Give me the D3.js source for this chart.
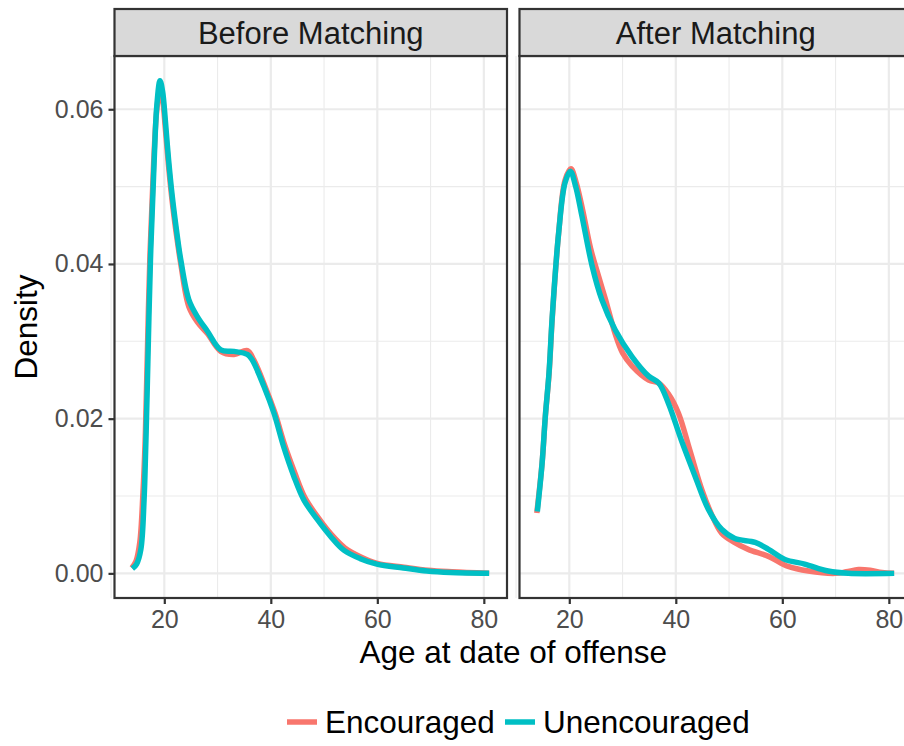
<!DOCTYPE html>
<html>
<head>
<meta charset="utf-8">
<script src="https://cdn.jsdelivr.net/npm/d3@7"></script>
<style>
  body { margin: 0; background: white; }
  text { font-family: "Liberation Sans", Arial, sans-serif; }
</style>
</head>
<body>
<script>
// facets and groups
var panels = ['Before Matching', 'After Matching'];
var groups = ['Encouraged', 'Unencouraged'];
var groupColors = ['#F8766D', '#00BFC4'];

var xTicks = [20, 40, 60, 80];
var xMinor = [10, 30, 50, 70];
var yTicks = [0, 0.02, 0.04, 0.06];
var yMinor = [0.01, 0.03, 0.05];

// density estimates: age, density
var beforeEncAge = [13.9, 14.7, 15.4, 16.0, 16.4, 16.7, 17.3, 18.0, 18.6, 19.2, 19.7, 20.2, 20.8, 21.5, 22.3, 23.1, 24.6, 26.2, 28.1, 30.6, 33.1, 35.6, 36.8, 38.9, 40.8, 42.6, 44.5, 46.4, 48.9, 51.4, 53.9, 57.0, 60.0, 65.0, 69.5, 74.0, 81.0];
var beforeEncDens = [0.0007, 0.0016, 0.0040, 0.0105, 0.0170, 0.0250, 0.0410, 0.0530, 0.0600, 0.0626, 0.0612, 0.0575, 0.0527, 0.0480, 0.0437, 0.0400, 0.0345, 0.0325, 0.0310, 0.0287, 0.0283, 0.0288, 0.0276, 0.0242, 0.0207, 0.0166, 0.0130, 0.0098, 0.0072, 0.0050, 0.0033, 0.0021, 0.0013, 0.0008, 0.0004, 0.0002, 0.0000];

var beforeUncAge = [14.0, 14.8, 15.6, 16.2, 16.5, 16.8, 17.4, 18.1, 18.6, 19.2, 19.7, 20.2, 20.8, 21.5, 22.3, 23.1, 24.6, 26.2, 28.1, 30.6, 33.1, 35.6, 36.5, 38.7, 40.6, 42.4, 44.3, 46.2, 48.7, 51.2, 53.7, 56.8, 59.9, 64.9, 69.3, 73.7, 81.0];
var beforeUncDens = [0.0006, 0.0012, 0.0031, 0.0095, 0.0160, 0.0240, 0.0405, 0.0534, 0.0605, 0.0637, 0.0622, 0.0585, 0.0535, 0.0487, 0.0443, 0.0405, 0.0354, 0.0332, 0.0313, 0.0289, 0.0287, 0.0283, 0.0276, 0.0242, 0.0207, 0.0164, 0.0126, 0.0095, 0.0070, 0.0048, 0.0030, 0.0019, 0.0012, 0.0007, 0.0003, 0.0001, 0.0000];

var afterEncAge = [13.9, 14.9, 15.5, 16.2, 16.8, 18.0, 19.2, 20.3, 21.3, 22.5, 24.0, 25.5, 26.8, 28.6, 30.0, 31.8, 34.9, 36.8, 38.6, 40.5, 42.6, 44.9, 46.8, 48.6, 51.0, 53.6, 57.4, 61.1, 64.9, 69.9, 72.0, 74.3, 76.5, 78.7, 81.0];
var afterEncDens = [0.0078, 0.0143, 0.0203, 0.0258, 0.0330, 0.0440, 0.0508, 0.0523, 0.0505, 0.0470, 0.0420, 0.0384, 0.0354, 0.0310, 0.0285, 0.0268, 0.0250, 0.0246, 0.0232, 0.0207, 0.0160, 0.0108, 0.0075, 0.0052, 0.0040, 0.0031, 0.0022, 0.0009, 0.0003, 0.0000, 0.0002, 0.0005, 0.0004, 0.0001, 0.0000];

var afterUncAge = [14.0, 14.9, 15.5, 16.2, 16.8, 18.0, 19.2, 20.2, 21.2, 22.4, 24.3, 26.1, 28.6, 31.8, 34.9, 36.8, 38.6, 41.1, 43.6, 46.1, 48.6, 51.1, 54.9, 57.4, 60.5, 64.2, 68.6, 72.4, 81.0];
var afterUncDens = [0.0080, 0.0143, 0.0203, 0.0260, 0.0332, 0.0440, 0.0505, 0.0520, 0.0500, 0.0461, 0.0397, 0.0354, 0.0315, 0.0280, 0.0255, 0.0246, 0.0220, 0.0171, 0.0126, 0.0083, 0.0057, 0.0045, 0.0040, 0.0031, 0.0018, 0.0012, 0.0003, 0.0000, 0.0000];

function zipSeries(ages, dens) {
  return ages.map(function(a, i) { return [a, dens[i]]; });
}

var panelData = [
  [zipSeries(beforeEncAge, beforeEncDens), zipSeries(beforeUncAge, beforeUncDens)],
  [zipSeries(afterEncAge, afterEncDens), zipSeries(afterUncAge, afterUncDens)]
];

var width = 904;
var height = 746;
var panelLeft = [114.5, 519.5];
var panelWidth = 392.5;
var stripTop = 9;
var panelTop = 56;
var panelBottom = 598;

var svg = d3.select('body')
  .append('svg')
  .attr('width', width)
  .attr('height', height);

// ggplot style expansion of 5% on both axes
var xMin = 14, xMax = 81, xPad = (xMax - xMin) * 0.05;
var yMax = 0.0637, yPad = yMax * 0.05;

var y = d3.scaleLinear()
  .domain([-yPad, yMax + yPad])
  .range([panelBottom, panelTop]);

var line = d3.line()
  .curve(d3.curveCatmullRom.alpha(0.5));

panels.forEach(function(name, p) {
  var x = d3.scaleLinear()
    .domain([xMin - xPad, xMax + xPad])
    .range([panelLeft[p], panelLeft[p] + panelWidth]);

  var g = svg.append('g');

  g.append('rect')
    .attr('x', panelLeft[p])
    .attr('y', panelTop)
    .attr('width', panelWidth)
    .attr('height', panelBottom - panelTop)
    .attr('fill', 'white');

  // minor grid
  g.selectAll('.xminor')
    .data(xMinor)
    .enter()
    .append('line')
    .attr('x1', function(d) { return x(d); })
    .attr('x2', function(d) { return x(d); })
    .attr('y1', panelTop)
    .attr('y2', panelBottom)
    .attr('stroke', '#EBEBEB')
    .attr('stroke-width', 1.1);

  g.selectAll('.yminor')
    .data(yMinor)
    .enter()
    .append('line')
    .attr('x1', panelLeft[p])
    .attr('x2', panelLeft[p] + panelWidth)
    .attr('y1', function(d) { return y(d); })
    .attr('y2', function(d) { return y(d); })
    .attr('stroke', '#EBEBEB')
    .attr('stroke-width', 1.1);

  // major grid
  g.selectAll('.xmajor')
    .data(xTicks)
    .enter()
    .append('line')
    .attr('x1', function(d) { return x(d); })
    .attr('x2', function(d) { return x(d); })
    .attr('y1', panelTop)
    .attr('y2', panelBottom)
    .attr('stroke', '#EBEBEB')
    .attr('stroke-width', 2.2);

  g.selectAll('.ymajor')
    .data(yTicks)
    .enter()
    .append('line')
    .attr('x1', panelLeft[p])
    .attr('x2', panelLeft[p] + panelWidth)
    .attr('y1', function(d) { return y(d); })
    .attr('y2', function(d) { return y(d); })
    .attr('stroke', '#EBEBEB')
    .attr('stroke-width', 2.2);

  // density curves
  g.selectAll('path.curve')
    .data(panelData[p])
    .enter()
    .append('path')
    .attr('d', function(d) {
      return line(d.map(function(pt) { return [x(pt[0]), y(pt[1])]; }));
    })
    .attr('fill', 'none')
    .attr('stroke', function(d, i) { return groupColors[i]; })
    .attr('stroke-width', 5.5)
    .attr('stroke-linejoin', 'round')
    .attr('stroke-linecap', 'butt');

  // panel border
  g.append('rect')
    .attr('x', panelLeft[p])
    .attr('y', panelTop)
    .attr('width', panelWidth)
    .attr('height', panelBottom - panelTop)
    .attr('fill', 'none')
    .attr('stroke', '#333333')
    .attr('stroke-width', 2.2);

  // strip
  g.append('rect')
    .attr('x', panelLeft[p])
    .attr('y', stripTop)
    .attr('width', panelWidth)
    .attr('height', panelTop - stripTop)
    .attr('fill', '#D9D9D9')
    .attr('stroke', '#333333')
    .attr('stroke-width', 2.2);

  g.append('text')
    .text(name)
    .attr('x', panelLeft[p] + panelWidth / 2)
    .attr('y', (stripTop + panelTop) / 2 + 11)
    .attr('text-anchor', 'middle')
    .attr('font-size', '31px')
    .attr('fill', '#1A1A1A');

  // x axis
  var xAxis = d3.axisBottom(x)
    .tickValues(xTicks)
    .tickSize(6)
    .tickPadding(6)
    .tickFormat(d3.format('d'));

  var xg = g.append('g')
    .attr('transform', 'translate(0,' + panelBottom + ')')
    .call(xAxis);
  xg.select('.domain').remove();
  xg.selectAll('line').attr('stroke', '#333333').attr('stroke-width', 2.2);
  xg.selectAll('text')
    .attr('fill', '#4D4D4D')
    .attr('font-size', '25px')
    .attr('font-family', '"Liberation Sans", Arial, sans-serif');

  if (p === 0) {
    var yAxis = d3.axisLeft(y)
      .tickValues(yTicks)
      .tickSize(6)
      .tickPadding(5)
      .tickFormat(d3.format('.2f'));

    var yg = g.append('g')
      .attr('transform', 'translate(' + panelLeft[p] + ',0)')
      .call(yAxis);
    yg.select('.domain').remove();
    yg.selectAll('line').attr('stroke', '#333333').attr('stroke-width', 2.2);
    yg.selectAll('text')
      .attr('fill', '#4D4D4D')
      .attr('font-size', '25px')
      .attr('font-family', '"Liberation Sans", Arial, sans-serif');
  }
});

// axis titles
svg.append('text')
  .text('Age at date of offense')
  .attr('x', (panelLeft[0] + panelLeft[1] + panelWidth) / 2)
  .attr('y', 663)
  .attr('text-anchor', 'middle')
  .attr('font-size', '31.5px')
  .attr('fill', 'black');

svg.append('text')
  .text('Density')
  .attr('transform', 'translate(37,' + (panelTop + panelBottom) / 2 + ') rotate(-90)')
  .attr('text-anchor', 'middle')
  .attr('font-size', '31.5px')
  .attr('fill', 'black');

// legend
var legendX = [287, 505];
var legend = svg.selectAll('.legend')
  .data(groups)
  .enter()
  .append('g')
  .attr('transform', function(d, i) { return 'translate(' + legendX[i] + ',722)'; });

legend.append('line')
  .attr('x1', 0)
  .attr('x2', 30)
  .attr('y1', 0)
  .attr('y2', 0)
  .attr('stroke', function(d, i) { return groupColors[i]; })
  .attr('stroke-width', 5.5);

legend.append('text')
  .text(function(d) { return d; })
  .attr('x', 38)
  .attr('y', 11)
  .attr('font-size', '31.5px')
  .attr('fill', 'black');
</script>
</body>
</html>
